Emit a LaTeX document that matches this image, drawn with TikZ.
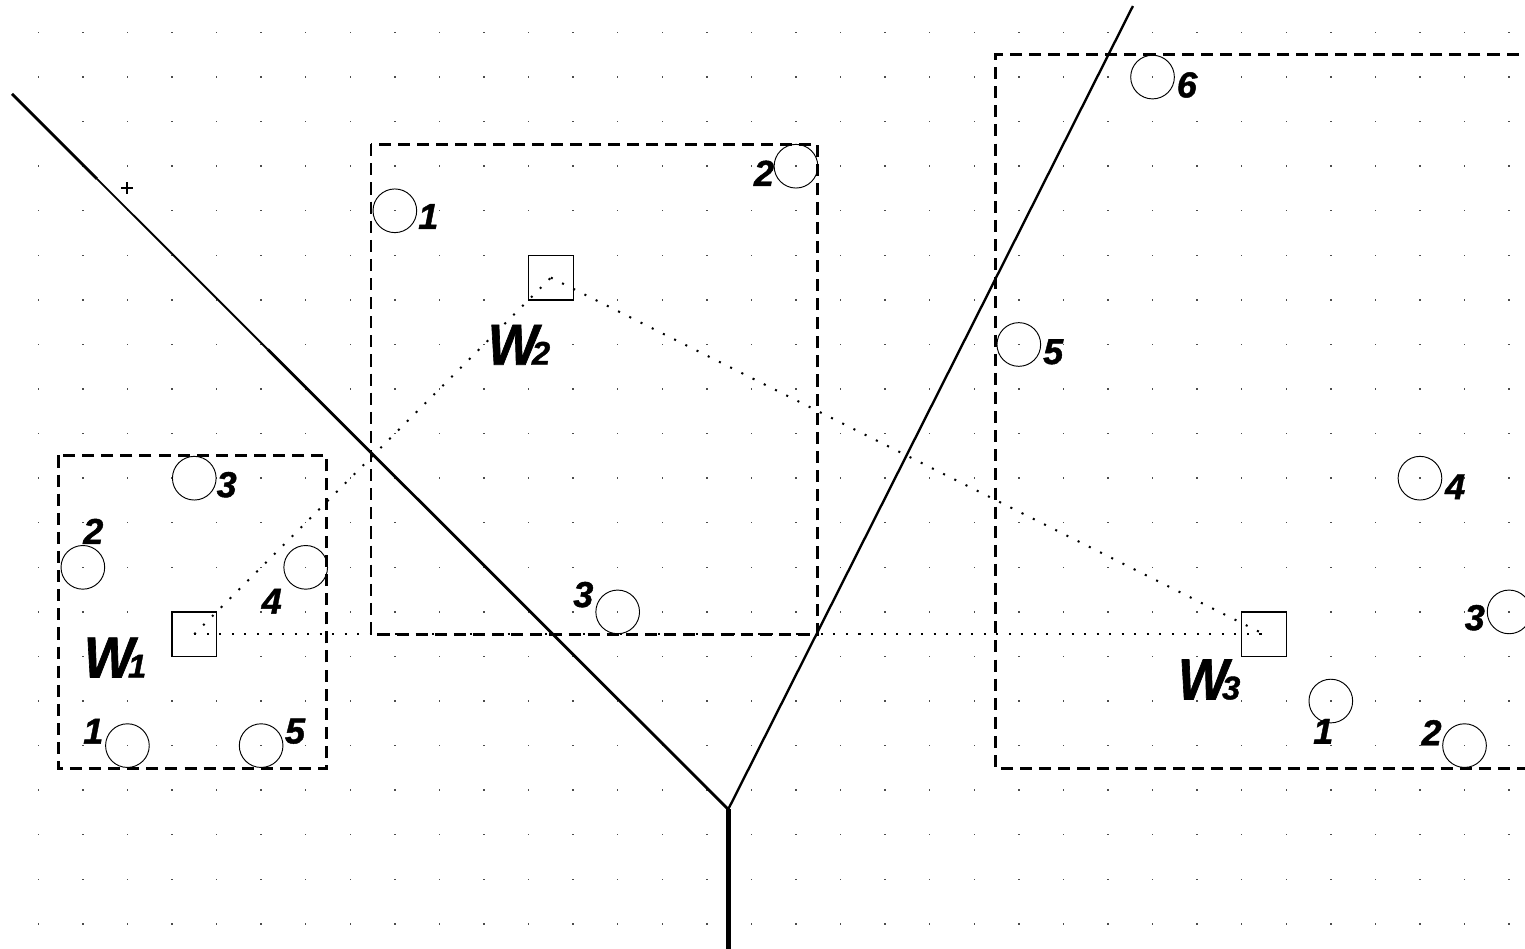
\documentclass[tikz,border=0pt]{standalone}
\usepackage{fontspec}
\usepackage{graphicx}
\setmainfont{Liberation Sans}
\newfontfamily\heavyfont[FakeBold=1.2]{Liberation Sans Bold Italic}
\usetikzlibrary{calc}
\begin{document}
\begin{tikzpicture}[x=1cm,y=1cm,
  griddot/.style={fill=black!70, draw=none},
  ring/.style={circle, draw=black, line width=0.6pt, minimum size=0.98cm, inner sep=0pt},
  cell/.style={rectangle, draw=black, line width=0.8pt, minimum size=1cm, inner sep=0pt},
  regionbox/.style={draw=black, line width=1.9pt, dash pattern=on 7.7pt off 4.5pt},
  link/.style={draw=black, line width=1.3pt, dash pattern=on 1.3pt off 6.7pt},
  bisector/.style={draw=black, line width=1.8pt},
  num/.style={font=\heavyfont\fontsize{23}{23}\selectfont, inner sep=0pt},
  wlab/.style={font=\heavyfont\fontsize{37}{37}\selectfont, inner sep=0pt}]

\useasboundingbox (-0.859,0.729) rectangle (33.357,-20.549);
\clip (-0.859,0.729) rectangle (33.357,-20.549);

% dot grid
\foreach \i in {0,...,33} {
  \foreach \j in {0,...,20} {
    \fill[griddot] (\i-0.016,-\j-0.016) rectangle ++(0.032,0.032);
  }
}

% dashed regions
\draw[regionbox] (0.449,-9.49) rectangle (6.47,-16.52);
\draw[regionbox] (7.465,-2.507) rectangle (17.48,-13.51);
\draw[regionbox] (34.5,-0.504) -- (21.48,-0.504) -- (21.48,-16.52) -- (34.5,-16.52);

% squares
\node[cell] (s1) at (3.5,-13.5) {};
\node[cell] (s2) at (11.5,-5.5) {};
\node[cell] (s3) at (27.5,-13.5) {};

% dotted links
\draw[link] (s1.center) -- (s3.center);
\draw[link] (s1.center) -- (s2.center);
\draw[link] (s2.center) -- (s3.center);

% circles W1
\node[ring] (c13) at (3.5,-10) {};
\node[ring] (c12) at (1,-12) {};
\node[ring] (c14) at (6,-12) {};
\node[ring] (c11) at (2,-16) {};
\node[ring] (c15) at (5,-16) {};
% circles W2
\node[ring] (c21) at (8,-4) {};
\node[ring] (c22) at (17,-3) {};
\node[ring] (c23) at (13,-13) {};
% circles W3
\node[ring] (c36) at (25,-1) {};
\node[ring] (c35) at (22,-7) {};
\node[ring] (c34) at (31,-10) {};
\node[ring] (c33) at (33,-13) {};
\node[ring] (c31) at (29,-15) {};
\node[ring] (c32) at (32,-16) {};

% numbers W1
\node[num] (n13) at (4.227,-10.146) {3};
\node[num] (n12) at (1.234,-11.193) {2};
\node[num] (n14) at (5.237,-12.762) {4};
\node[num] (n11) at (1.234,-15.677) {1};
\node[num] (n15) at (5.760,-15.677) {5};
% numbers W2
\node[num] (n21) at (8.750,-4.130) {1};
\node[num] (n22) at (16.282,-3.157) {2};
\node[num] (n23) at (12.228,-12.612) {3};
% numbers W3
\node[num] (n36) at (25.77,-1.177) {6};
\node[num] (n35) at (22.77,-7.164) {5};
\node[num] (n34) at (31.79,-10.19) {4};
\node[num] (n33) at (32.23,-13.13) {3};
\node[num] (n31) at (28.83,-15.68) {1};
\node[num] (n32) at (31.26,-15.71) {2};

% W labels
\node[wlab] (w1) at (1.723,-14.025) {\scalebox{0.92}[1]{W}\kern-4pt{\fontsize{21}{21}\selectfont 1}};
\node[wlab] (w2) at (10.785,-7.007) {\scalebox{0.92}[1]{W}\kern-4pt{\fontsize{21}{21}\selectfont 2}};
\node[wlab] (w3) at (26.27,-14.52) {\scalebox{0.92}[1]{W}\kern-4pt{\fontsize{21}{21}\selectfont 3}};

% bisector lines
\coordinate (P0) at (-0.59,-1.379);
\coordinate (Y) at (15.48,-17.43);
\coordinate (P1) at (24.56,0.594);
\coordinate (P2) at (15.48,-20.8);
\coordinate (B1) at ($(P0)!0.1187!(Y)$);
\coordinate (B2) at ($(P0)!0.357!(Y)$);
\draw[bisector] (P0) -- (B1);
\draw[line width=1.2pt] (B1) -- (B2);
\draw[bisector] (B2) -- (Y);
\draw[line width=1.5pt] (Y) -- (P1);
\draw[line width=2.9pt] (Y) -- (P2);

% plus mark
\coordinate (plus) at (1.99,-3.487);
\draw[line width=0.8pt] ($(plus)+(-0.13,0)$) -- ($(plus)+(0.13,0)$);
\draw[line width=0.8pt] ($(plus)+(0,-0.13)$) -- ($(plus)+(0,0.13)$);
\end{tikzpicture}
\end{document}
